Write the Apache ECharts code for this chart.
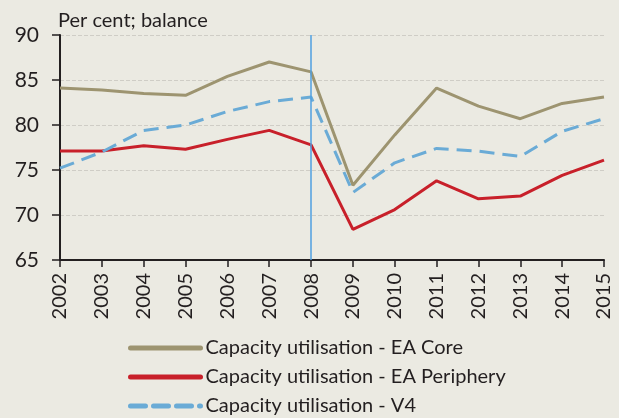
<!DOCTYPE html>
<html>
<head>
<meta charset="utf-8">
<script src="https://cdn.jsdelivr.net/npm/echarts@6/dist/echarts.min.js"></script>
<style>
html, body { margin: 0; padding: 0; background: #ebeae2; }
#main { width: 619px; height: 418px; }
</style>
</head>
<body>
<div id="main"></div>
<script>
var years = ['2002','2003','2004','2005','2006','2007','2008','2009','2010','2011','2012','2013','2014','2015'];
var eaCore = [84.1, 83.9, 83.5, 83.3, 85.4, 87.0, 85.9, 73.3, 78.9, 84.1, 82.1, 80.7, 82.4, 83.1];
var eaPeriphery = [77.1, 77.1, 77.7, 77.3, 78.4, 79.4, 77.8, 68.4, 70.6, 73.8, 71.8, 72.1, 74.4, 76.1];
var v4 = [75.2, 77.0, 79.4, 80.0, 81.5, 82.6, 83.1, 72.5, 75.8, 77.4, 77.1, 76.5, 79.3, 80.7];
var names = ['Capacity utilisation - EA Core', 'Capacity utilisation - EA Periphery', 'Capacity utilisation - V4'];

var font = 'Lato, "Open Sans", sans-serif';
var myecharts = echarts.init(document.getElementById('main'));
var option = {
    backgroundColor: '#ebeae2',
    animation: false,
    title: {
        text: 'Per cent; balance',
        left: 53,
        top: 6,
        textStyle: { fontFamily: font, fontSize: 20, fontWeight: 'normal', color: '#231f20' }
    },
    grid: { left: 60, right: 15, top: 35, bottom: 158 },
    legend: {
        orient: 'vertical',
        left: 128,
        top: 338,
        padding: 0,
        itemWidth: 70,
        itemHeight: 12,
        itemGap: 9,
        textStyle: { fontFamily: font, fontSize: 20, lineHeight: 20, color: '#231f20' },
        itemStyle: { opacity: 0 },
        lineStyle: { width: 5, cap: 'round' },
        data: names
    },
    xAxis: {
        type: 'category',
        boundaryGap: false,
        data: years,
        axisLine: { lineStyle: { color: '#231f20', width: 2 } },
        axisTick: { show: true, length: 7, lineStyle: { color: '#231f20', width: 1.5 } },
        axisLabel: { rotate: 90, fontFamily: font, fontSize: 20, color: '#231f20', margin: 13 }
    },
    yAxis: {
        type: 'value',
        min: 65,
        max: 90,
        interval: 5,
        axisLine: { show: true, lineStyle: { color: '#231f20', width: 2 } },
        axisTick: { show: true, length: 8, lineStyle: { color: '#231f20', width: 1.5 } },
        axisLabel: { fontFamily: font, fontSize: 21, color: '#231f20', margin: 21 },
        splitLine: { lineStyle: { color: '#cfcdc6', type: 'dashed', width: 1 } }
    },
    series: [
        {
            name: names[0],
            type: 'line',
            symbol: 'none',
            data: eaCore,
            color: '#9d9470',
            lineStyle: { width: 3, color: '#9d9470' },
            markLine: {
                silent: true,
                symbol: 'none',
                label: { show: false },
                lineStyle: { color: '#4f9fe0', width: 1.5, type: 'solid' },
                data: [{ xAxis: '2008' }]
            }
        },
        {
            name: names[1],
            type: 'line',
            symbol: 'none',
            data: eaPeriphery,
            color: '#c8202a',
            lineStyle: { width: 3, color: '#c8202a' }
        },
        {
            name: names[2],
            type: 'line',
            symbol: 'none',
            data: v4,
            color: '#6aabd6',
            lineStyle: { width: 3, color: '#6aabd6', type: [15, 8] }
        }
    ]
};
myecharts.setOption(option);
</script>
</body>
</html>
